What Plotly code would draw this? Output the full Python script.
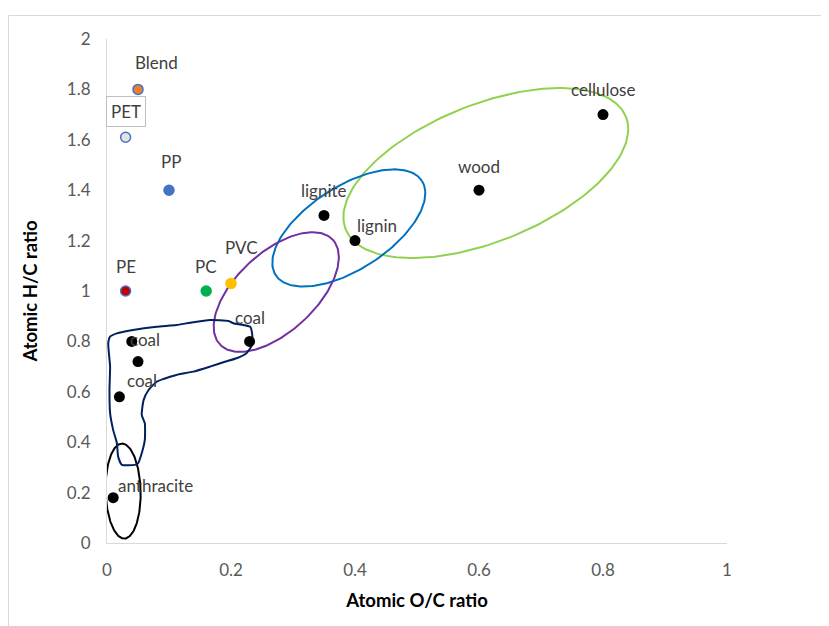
import numpy as np
import plotly.graph_objects as go

# ---------------- data ----------------
plastic_names = ["Blend", "PET", "PP", "PE", "PC", "PVC"]
plastic_oc = [0.05, 0.03, 0.10, 0.03, 0.16, 0.20]
plastic_hc = [1.80, 1.61, 1.40, 1.00, 1.00, 1.03]
plastic_fill = ["#ED7D31", "#E2E2E2", "#4472C4", "#C00000", "#00B050", "#FFC000"]
plastic_edge = ["#4472C4", "#4472C4", "#4472C4", "#4472C4", "#00B050", "#FFC000"]
plastic_shift = [(18, 27), (0, 26), (2, 29), (0, 25), (0, 25), (10, 36)]

fuel_names = ["coal", "", "coal", "coal", "anthracite", "lignite", "lignin", "wood", "cellulose"]
fuel_oc = [0.04, 0.05, 0.02, 0.23, 0.01, 0.35, 0.40, 0.60, 0.80]
fuel_hc = [0.80, 0.72, 0.58, 0.80, 0.18, 1.30, 1.20, 1.40, 1.70]
fuel_shift = [(13, 2), (0, 0), (23, 16), (0, 24), (42, 12), (0, 25), (22, 15), (0, 24), (0, 25)]

# hand-drawn coal region outline (O/C, H/C)
coal_outline_oc = [0.016, 0.042, 0.080, 0.112, 0.134, 0.166, 0.196, 0.204, 0.231, 0.234,
                   0.234, 0.225, 0.209, 0.190, 0.166, 0.139, 0.112, 0.091, 0.080, 0.067,
                   0.059, 0.056, 0.061, 0.061, 0.056, 0.050, 0.045, 0.024, 0.018, 0.016,
                   0.010, 0.005, 0.004, 0.005, 0.002, 0.005, 0.016]
coal_outline_hc = [0.832, 0.845, 0.858, 0.865, 0.874, 0.885, 0.881, 0.872, 0.858, 0.832,
                   0.786, 0.753, 0.733, 0.719, 0.700, 0.680, 0.667, 0.651, 0.640, 0.607,
                   0.567, 0.508, 0.475, 0.409, 0.356, 0.316, 0.310, 0.310, 0.342, 0.396,
                   0.448, 0.515, 0.607, 0.700, 0.792, 0.819, 0.832]

# ellipses: centre (O/C, H/C), semi-axes (px), angle (deg), colour
ell_cx = [0.611, 0.390, 0.273, 0.026]
ell_cy = [1.468, 1.250, 0.996, 0.206]
ell_a = [151, 87, 77, 47.5]
ell_b = [68.6, 41.5, 39.6, 17.5]
ell_ang = [21.9, 32.8, 42.8, 91.5]
ell_col = ["#92D050", "#0070C0", "#7030A0", "#000000"]

x_ticks = [0, 0.2, 0.4, 0.6, 0.8, 1]
x_ticktext = ["0", "0.2", "0.4", "0.6", "0.8", "1"]
y_ticks = [0, 0.2, 0.4, 0.6, 0.8, 1, 1.2, 1.4, 1.6, 1.8, 2]
y_ticktext = ["0", "0.2", "0.4", "0.6", "0.8", "1", "1.2", "1.4", "1.6", "1.8", "2"]

# ---------------- layout geometry ----------------
W, H = 821, 618
ML, MR, MT, MB = 99, 102, 31, 83
PW, PH = W - ML - MR, H - MT - MB
XR, YR = (0, 1), (0, 2)
FONT = "Lato, 'Open Sans', sans-serif"
LBL = 17

fig = go.Figure()

# ellipses
t = np.linspace(0, 2 * np.pi, 200)
for cx, cy, a, b, ang, col in zip(ell_cx, ell_cy, ell_a, ell_b, ell_ang, ell_col):
    th = np.radians(ang)
    u, v = a * np.cos(t), b * np.sin(t)
    dx = u * np.cos(th) - v * np.sin(th)
    dy = u * np.sin(th) + v * np.cos(th)
    fig.add_trace(go.Scatter(
        x=cx + dx / PW * (XR[1] - XR[0]),
        y=cy + dy / PH * (YR[1] - YR[0]),
        mode="lines", line=dict(color=col, width=2),
        hoverinfo="skip", showlegend=False))

# coal outline
fig.add_trace(go.Scatter(
    x=coal_outline_oc, y=coal_outline_hc, mode="lines",
    line=dict(color="#002060", width=2, shape="spline", smoothing=0.5),
    hoverinfo="skip", showlegend=False))

# fuels
fig.add_trace(go.Scatter(
    x=fuel_oc, y=fuel_hc, mode="markers",
    marker=dict(color="#000000", size=11, line=dict(width=0)),
    showlegend=False))

# plastics
fig.add_trace(go.Scatter(
    x=plastic_oc, y=plastic_hc, mode="markers",
    marker=dict(color=plastic_fill, size=10, line=dict(color=plastic_edge, width=1.5)),
    showlegend=False))

annotations = []
for name, x, y, (sx, sy) in zip(plastic_names, plastic_oc, plastic_hc, plastic_shift):
    ann = dict(x=x, y=y, text=name, showarrow=False, xshift=sx, yshift=sy,
               font=dict(family=FONT, size=LBL, color="#404040"))
    if name == "PET":
        ann.update(bordercolor="#BFBFBF", borderwidth=1, borderpad=4, bgcolor="white")
    annotations.append(ann)
for name, x, y, (sx, sy) in zip(fuel_names, fuel_oc, fuel_hc, fuel_shift):
    if not name:
        continue
    annotations.append(dict(x=x, y=y, text=name, showarrow=False, xshift=sx, yshift=sy,
                            font=dict(family=FONT, size=LBL, color="#404040")))

fig.update_layout(
    width=W, height=H, autosize=False,
    margin=dict(l=ML, r=MR, t=MT, b=MB),
    paper_bgcolor="white", plot_bgcolor="white",
    font=dict(family=FONT, color="#595959", size=LBL),
    annotations=annotations,
    shapes=[dict(type="rect", xref="paper", yref="paper",
                 x0=(0.5 - ML) / PW, x1=(W + 20 - ML) / PW,
                 y0=-(H + 20 - (H - MB)) / PH, y1=(H - MB - 7.5) / PH,
                 line=dict(color="#D9D9D9", width=1), layer="below")],
    xaxis=dict(range=list(XR), tickvals=x_ticks, ticktext=x_ticktext,
               showgrid=False, zeroline=False, showline=True, linecolor="#D9D9D9",
               linewidth=1, ticks="", ticklabelstandoff=12,
               tickfont=dict(family=FONT, size=LBL, color="#595959"),
               title=dict(text="<b>Atomic O/C ratio</b>", standoff=14,
                          font=dict(family=FONT, size=18.5, color="#000000"))),
    yaxis=dict(range=list(YR), tickvals=y_ticks, ticktext=y_ticktext,
               showgrid=False, zeroline=False, showline=True, linecolor="#D9D9D9",
               linewidth=1, ticks="", ticklabelstandoff=12,
               tickfont=dict(family=FONT, size=LBL, color="#595959"),
               title=dict(text="<b>Atomic H/C ratio</b>", standoff=24,
                          font=dict(family=FONT, size=18.5, color="#000000"))),
)

fig.write_html("out.html")
